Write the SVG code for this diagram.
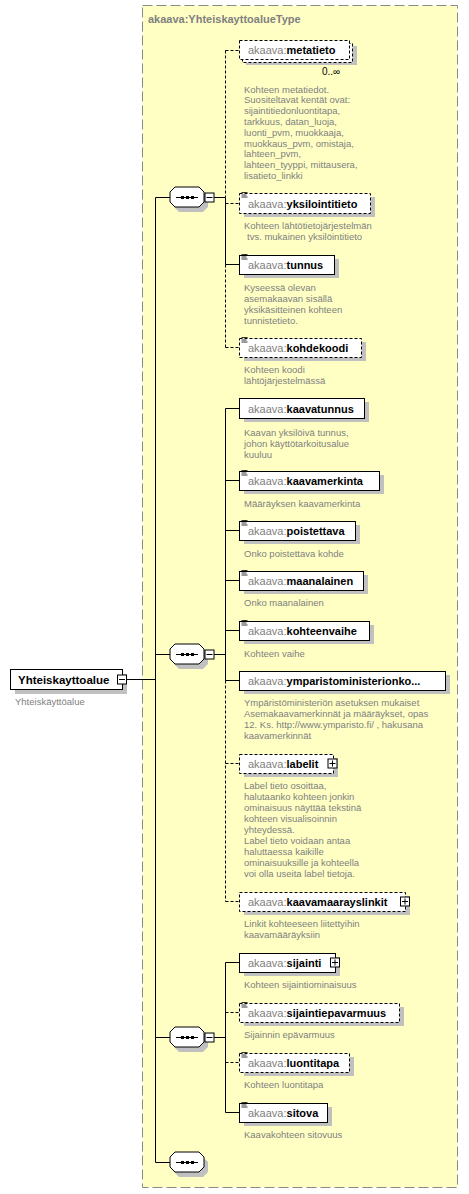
<svg xmlns="http://www.w3.org/2000/svg" xmlns:xlink="http://www.w3.org/1999/xlink" width="469" height="1194" viewBox="0 0 469 1194">
<style>
.bg{fill:#fff}
.cont{fill:#ffffc4;stroke:#8a8a8a;stroke-width:1;stroke-dasharray:10,4}
.ttl{font-family:"Liberation Sans",Arial,sans-serif;font-size:11px;font-weight:bold;fill:#808080}
.box{fill:#fff;stroke:#000;stroke-width:1}
.opt{stroke-dasharray:3,2}
.sh{fill:#c0c0c0}
.lbl{font-family:"Liberation Sans",Arial,sans-serif;font-size:11px}
.pre{fill:#808080}
.nm{font-weight:bold;fill:#000}
.desc{font-family:"Liberation Sans",Arial,sans-serif;font-size:9.5px;fill:#808080}
.occ{font-family:"Liberation Sans",Arial,sans-serif;font-size:10px;fill:#000}
.ln{stroke:#000;stroke-width:1;fill:none}
.dl{stroke:#000;stroke-width:1;fill:none;stroke-dasharray:3,2}
.ico{stroke:#000;stroke-width:0.8}
</style>
<defs>
<g id="seqsym">
<polygon class="sh" points="-12,-10 12,-10 17,-5 17,5 12,10 -12,10 -17,5 -17,-5" transform="translate(4,5)"/>
<polygon class="box" points="-12,-10 12,-10 17,-5 17,5 12,10 -12,10 -17,5 -17,-5"/>
<line class="ln" x1="-11" y1="0.5" x2="11" y2="0.5"/>
<rect x="-6" y="-1" width="3" height="3" fill="#000"/>
<rect x="-1" y="-1" width="3" height="3" fill="#000"/>
<rect x="4" y="-1" width="3" height="3" fill="#000"/>
</g>
<g id="minus">
<rect class="box" x="0.5" y="0.5" width="9" height="9"/>
<line class="ln" x1="2" y1="5" x2="8" y2="5"/>
</g>
<g id="plus">
<rect class="box" x="0.5" y="0.5" width="9" height="9"/>
<line class="ln" x1="2" y1="5" x2="8" y2="5"/>
<line class="ln" x1="5" y1="2" x2="5" y2="8"/>
</g>
<g id="doc">
<line class="ico" x1="2" y1="-1" x2="8" y2="-1"/>
<line class="ico" x1="2" y1="1.5" x2="7" y2="1.5"/>
<line class="ico" x1="2" y1="3.5" x2="8" y2="3.5"/>
</g>
</defs>
<rect class="bg" x="0" y="0" width="469" height="1194"/>

<g id="container">
<rect class="cont" x="142.5" y="5.5" width="315" height="1182"/>
<text class="ttl" x="148" y="23">akaava:YhteiskayttoalueType</text>
</g>

<g id="connectors">
<line class="ln" x1="127" y1="679.5" x2="155.5" y2="679.5"/>
<line class="ln" x1="155.5" y1="197.5" x2="155.5" y2="1162.5"/>
<line class="ln" x1="155.5" y1="197.5" x2="170" y2="197.5"/>
<line class="ln" x1="155.5" y1="654.5" x2="170" y2="654.5"/>
<line class="ln" x1="155.5" y1="1037.5" x2="170" y2="1037.5"/>
<line class="ln" x1="155.5" y1="1162.5" x2="170" y2="1162.5"/>
<line class="ln" x1="214" y1="197.5" x2="225.5" y2="197.5"/>
<line class="ln" x1="214" y1="654.5" x2="225.5" y2="654.5"/>
<line class="ln" x1="214" y1="1037.5" x2="225.5" y2="1037.5"/>
<line class="dl" x1="225.5" y1="50.5" x2="225.5" y2="197.5"/>
<line class="ln" x1="225.5" y1="197.5" x2="225.5" y2="264.5"/>
<line class="dl" x1="225.5" y1="264.5" x2="225.5" y2="347.5"/>
<line class="dl" x1="225.5" y1="50.5" x2="239" y2="50.5"/>
<line class="dl" x1="225.5" y1="203.5" x2="239" y2="203.5"/>
<line class="ln" x1="225.5" y1="264.5" x2="239" y2="264.5"/>
<line class="dl" x1="225.5" y1="347.5" x2="239" y2="347.5"/>
<line class="ln" x1="225.5" y1="408.5" x2="225.5" y2="680.5"/>
<line class="dl" x1="225.5" y1="680.5" x2="225.5" y2="901.5"/>
<line class="ln" x1="225.5" y1="408.5" x2="239" y2="408.5"/>
<line class="ln" x1="225.5" y1="480.5" x2="239" y2="480.5"/>
<line class="ln" x1="225.5" y1="530.5" x2="239" y2="530.5"/>
<line class="ln" x1="225.5" y1="580.5" x2="239" y2="580.5"/>
<line class="ln" x1="225.5" y1="630.5" x2="239" y2="630.5"/>
<line class="ln" x1="225.5" y1="680.5" x2="239" y2="680.5"/>
<line class="dl" x1="225.5" y1="763.5" x2="239" y2="763.5"/>
<line class="dl" x1="225.5" y1="901.5" x2="239" y2="901.5"/>
<line class="ln" x1="225.5" y1="962.5" x2="225.5" y2="1112.5"/>
<line class="ln" x1="225.5" y1="962.5" x2="239" y2="962.5"/>
<line class="dl" x1="225.5" y1="1012.5" x2="239" y2="1012.5"/>
<line class="dl" x1="225.5" y1="1062.5" x2="239" y2="1062.5"/>
<line class="ln" x1="225.5" y1="1112.5" x2="239" y2="1112.5"/>
</g>

<g id="root">
<rect class="sh" x="15" y="674" width="112" height="20"/>
<rect class="box" x="10.5" y="669.5" width="112" height="20"/>
<text class="lbl nm" x="18" y="684" style="font-size:11.5px">Yhteiskayttoalue</text>
<use xlink:href="#minus" x="117" y="674.5"/>
<text class="desc" x="15" y="705">Yhteiskäyttöalue</text>
</g>

<g id="seq1"><use xlink:href="#seqsym" x="187" y="197"/><use xlink:href="#minus" x="204.5" y="192.5"/></g>
<g id="seq2"><use xlink:href="#seqsym" x="187" y="654"/><use xlink:href="#minus" x="204.5" y="649.5"/></g>
<g id="seq3"><use xlink:href="#seqsym" x="187" y="1037"/><use xlink:href="#minus" x="204.5" y="1032.5"/></g>
<g id="seq4"><use xlink:href="#seqsym" x="187" y="1162"/></g>

<g id="metatieto">
<rect class="sh" x="246" y="46" width="111" height="19"/>
<rect class="box opt" x="242.5" y="43.5" width="110" height="19"/>
<rect class="box opt" x="239.5" y="40.5" width="110" height="19"/>
<text class="lbl" x="248" y="54"><tspan class="pre">akaava:</tspan><tspan class="nm">metatieto</tspan></text>
<text class="occ" x="322" y="75">0..∞</text>
<text class="desc" x="244" y="92.5">Kohteen metatiedot.</text>
<text class="desc" x="244" y="103.3">Suositeltavat kentät ovat:</text>
<text class="desc" x="244" y="114.1">sijaintitiedonluontitapa,</text>
<text class="desc" x="244" y="124.9">tarkkuus, datan_luoja,</text>
<text class="desc" x="244" y="135.7">luonti_pvm, muokkaaja,</text>
<text class="desc" x="244" y="146.5">muokkaus_pvm, omistaja,</text>
<text class="desc" x="244" y="157.3">lahteen_pvm,</text>
<text class="desc" x="244" y="168.1">lahteen_tyyppi, mittausera,</text>
<text class="desc" x="244" y="178.9">lisatieto_linkki</text>
</g>

<g id="yksilointitieto">
<rect class="sh" x="244" y="197" width="131" height="20"/>
<rect class="box opt" x="239.5" y="193.5" width="131" height="20"/>
<use xlink:href="#doc" x="239.5" y="193.5"/>
<text class="lbl" x="248" y="207.5"><tspan class="pre">akaava:</tspan><tspan class="nm">yksilointitieto</tspan></text>
<text class="desc" x="244" y="228.5">Kohteen lähtötietojärjestelmän</text>
<text class="desc" x="247" y="240">tvs. mukainen yksilöintitieto</text>
</g>

<g id="tunnus">
<rect class="sh" x="244" y="259" width="95" height="19"/>
<rect class="box" x="239.5" y="255.5" width="95" height="19"/>
<use xlink:href="#doc" x="239.5" y="255.5"/>
<text class="lbl" x="248" y="269"><tspan class="pre">akaava:</tspan><tspan class="nm">tunnus</tspan></text>
<text class="desc" x="244" y="290.5">Kyseessä olevan</text>
<text class="desc" x="244" y="301.5">asemakaavan sisällä</text>
<text class="desc" x="244" y="312.5">yksikäsitteinen kohteen</text>
<text class="desc" x="244" y="323.5">tunnistetieto.</text>
</g>

<g id="kohdekoodi">
<rect class="sh" x="244" y="342" width="122" height="19"/>
<rect class="box opt" x="239.5" y="338.5" width="122" height="19"/>
<use xlink:href="#doc" x="239.5" y="338.5"/>
<text class="lbl" x="248" y="352"><tspan class="pre">akaava:</tspan><tspan class="nm">kohdekoodi</tspan></text>
<text class="desc" x="244" y="372.5">Kohteen koodi</text>
<text class="desc" x="244" y="383.5">lähtöjärjestelmässä</text>
</g>

<g id="kaavatunnus">
<rect class="sh" x="244" y="402" width="125" height="20"/>
<rect class="box" x="239.5" y="398.5" width="125" height="20"/>
<text class="lbl" x="248" y="412.5"><tspan class="pre">akaava:</tspan><tspan class="nm">kaavatunnus</tspan></text>
<text class="desc" x="244" y="435.5">Kaavan yksilöivä tunnus,</text>
<text class="desc" x="244" y="446.5">johon käyttötarkoitusalue</text>
<text class="desc" x="244" y="457.5">kuuluu</text>
</g>

<g id="kaavamerkinta">
<rect class="sh" x="244" y="475" width="140" height="19"/>
<rect class="box" x="239.5" y="471.5" width="140" height="19"/>
<use xlink:href="#doc" x="239.5" y="471.5"/>
<text class="lbl" x="248" y="485"><tspan class="pre">akaava:</tspan><tspan class="nm">kaavamerkinta</tspan></text>
<text class="desc" x="244" y="506.5">Määräyksen kaavamerkinta</text>
</g>

<g id="poistettava">
<rect class="sh" x="244" y="525" width="116" height="19"/>
<rect class="box" x="239.5" y="521.5" width="116" height="19"/>
<use xlink:href="#doc" x="239.5" y="521.5"/>
<text class="lbl" x="248" y="535"><tspan class="pre">akaava:</tspan><tspan class="nm">poistettava</tspan></text>
<text class="desc" x="244" y="556.5">Onko poistettava kohde</text>
</g>

<g id="maanalainen">
<rect class="sh" x="244" y="575" width="124" height="19"/>
<rect class="box" x="239.5" y="571.5" width="124" height="19"/>
<use xlink:href="#doc" x="239.5" y="571.5"/>
<text class="lbl" x="248" y="585"><tspan class="pre">akaava:</tspan><tspan class="nm">maanalainen</tspan></text>
<text class="desc" x="244" y="606">Onko maanalainen</text>
</g>

<g id="kohteenvaihe">
<rect class="sh" x="244" y="625" width="130" height="19"/>
<rect class="box" x="239.5" y="621.5" width="130" height="19"/>
<use xlink:href="#doc" x="239.5" y="621.5"/>
<text class="lbl" x="248" y="635"><tspan class="pre">akaava:</tspan><tspan class="nm">kohteenvaihe</tspan></text>
<text class="desc" x="244" y="656.5">Kohteen vaihe</text>
</g>

<g id="ymparistoministerionkoodi">
<rect class="sh" x="244" y="675" width="206" height="19"/>
<rect class="box" x="239.5" y="671.5" width="206" height="19"/>
<text class="lbl" x="248" y="685"><tspan class="pre">akaava:</tspan><tspan class="nm">ymparistoministerionko...</tspan></text>
<text class="desc" x="244" y="705.5">Ympäristöministeriön asetuksen mukaiset</text>
<text class="desc" x="244" y="716.5">Asemakaavamerkinnät ja määräykset, opas</text>
<text class="desc" x="244" y="727.5">12. Ks. http://www.ymparisto.fi/ , hakusana</text>
<text class="desc" x="244" y="738.5">kaavamerkinnät</text>
</g>

<g id="labelit">
<rect class="sh" x="244" y="758" width="94" height="19"/>
<rect class="box opt" x="239.5" y="754.5" width="94" height="19"/>
<text class="lbl" x="248" y="768"><tspan class="pre">akaava:</tspan><tspan class="nm">labelit</tspan></text>
<use xlink:href="#plus" x="327.5" y="758.5"/>
<text class="desc" x="244" y="788.5">Label tieto osoittaa,</text>
<text class="desc" x="244" y="799.6">halutaanko kohteen jonkin</text>
<text class="desc" x="244" y="810.7">ominaisuus näyttää tekstinä</text>
<text class="desc" x="244" y="821.8">kohteen visualisoinnin</text>
<text class="desc" x="244" y="832.9">yhteydessä.</text>
<text class="desc" x="244" y="844">Label tieto voidaan antaa</text>
<text class="desc" x="244" y="855.1">haluttaessa kaikille</text>
<text class="desc" x="244" y="866.2">ominaisuuksille ja kohteella</text>
<text class="desc" x="244" y="877.3">voi olla useita label tietoja.</text>
</g>

<g id="kaavamaarayslinkit">
<rect class="sh" x="244" y="896" width="166" height="19"/>
<rect class="box opt" x="239.5" y="892.5" width="166" height="19"/>
<text class="lbl" x="248" y="906"><tspan class="pre">akaava:</tspan><tspan class="nm">kaavamaarayslinkit</tspan></text>
<use xlink:href="#plus" x="400" y="896.5"/>
<text class="desc" x="244" y="926.5">Linkit kohteeseen liitettyihin</text>
<text class="desc" x="244" y="937.5">kaavamääräyksiin</text>
</g>

<g id="sijainti">
<rect class="sh" x="244" y="957" width="96" height="19"/>
<rect class="box" x="239.5" y="953.5" width="96" height="19"/>
<text class="lbl" x="248" y="967"><tspan class="pre">akaava:</tspan><tspan class="nm">sijainti</tspan></text>
<use xlink:href="#plus" x="330" y="957.5"/>
<text class="desc" x="244" y="987.5">Kohteen sijaintiominaisuus</text>
</g>

<g id="sijaintiepavarmuus">
<rect class="sh" x="244" y="1007" width="160" height="19"/>
<rect class="box opt" x="239.5" y="1003.5" width="160" height="19"/>
<use xlink:href="#doc" x="239.5" y="1003.5"/>
<text class="lbl" x="248" y="1017"><tspan class="pre">akaava:</tspan><tspan class="nm">sijaintiepavarmuus</tspan></text>
<text class="desc" x="244" y="1038">Sijainnin epävarmuus</text>
</g>

<g id="luontitapa">
<rect class="sh" x="244" y="1057" width="110" height="19"/>
<rect class="box opt" x="239.5" y="1053.5" width="110" height="19"/>
<use xlink:href="#doc" x="239.5" y="1053.5"/>
<text class="lbl" x="248" y="1067"><tspan class="pre">akaava:</tspan><tspan class="nm">luontitapa</tspan></text>
<text class="desc" x="244" y="1088">Kohteen luontitapa</text>
</g>

<g id="sitova">
<rect class="sh" x="244" y="1107" width="88" height="19"/>
<rect class="box" x="239.5" y="1103.5" width="88" height="19"/>
<use xlink:href="#doc" x="239.5" y="1103.5"/>
<text class="lbl" x="248" y="1117"><tspan class="pre">akaava:</tspan><tspan class="nm">sitova</tspan></text>
<text class="desc" x="244" y="1137.5">Kaavakohteen sitovuus</text>
</g>
</svg>
